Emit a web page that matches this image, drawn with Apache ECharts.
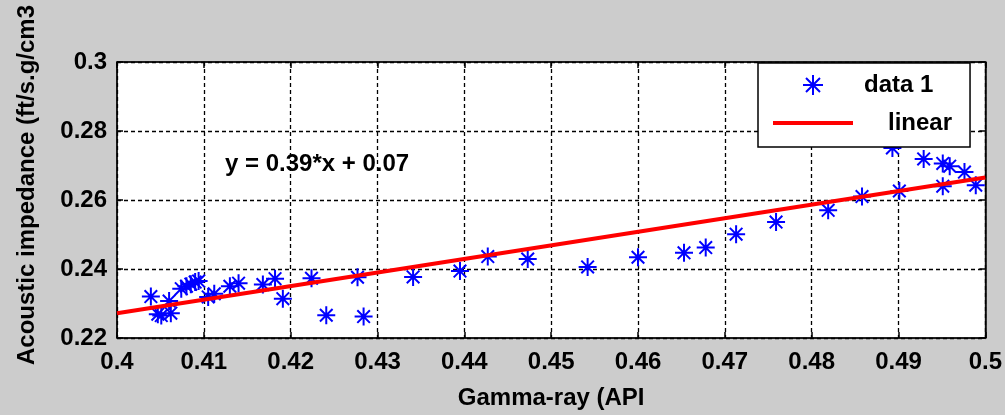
<!DOCTYPE html>
<html>
<head>
<meta charset="utf-8">
<script src="https://cdn.jsdelivr.net/npm/echarts@6/dist/echarts.min.js"></script>
<style>
html,body{margin:0;padding:0;background:#cccccc;}
#chart{width:1005px;height:415px;}
</style>
</head>
<body>
<div id="chart"></div>
<script>
// ---- data ----
const gammaRay = [0.4039, 0.4047, 0.4051, 0.4060, 0.4062, 0.4074, 0.4080, 0.4085, 0.4090, 0.4094,
  0.4105, 0.4112, 0.4130, 0.4140, 0.4168, 0.4182, 0.4191, 0.4224, 0.4241, 0.4277,
  0.4284, 0.4341, 0.4395, 0.4427, 0.4473, 0.4542, 0.4600, 0.4653, 0.4678, 0.4713,
  0.4759, 0.4819, 0.4858, 0.4893, 0.4901, 0.4929, 0.4951, 0.4959, 0.4951, 0.4976, 0.4989];
const impedance = [0.2320, 0.2269, 0.2265, 0.2307, 0.2272, 0.2343, 0.2350, 0.2356, 0.2362, 0.2365,
  0.2319, 0.2328, 0.2350, 0.2359, 0.2355, 0.2372, 0.2314, 0.2373, 0.2266, 0.2376,
  0.2262, 0.2377, 0.2394, 0.2436, 0.2429, 0.2406, 0.2434, 0.2447, 0.2462, 0.2501,
  0.2536, 0.2570, 0.2610, 0.2751, 0.2626, 0.2719, 0.2706, 0.2698, 0.2640, 0.2681, 0.2643];
const fitX = [0.4, 0.5];
const fitY = [0.2272, 0.2665];
const xRange = [0.4, 0.5];
const xStep = 0.01;
const yRange = [0.22, 0.3];
const yStep = 0.02;
const seriesNames = ['data 1', 'linear'];
const equationText = 'y = 0.39*x + 0.07';
const xTitle = 'Gamma-ray (API';
const yTitle = 'Acoustic impedance (ft/s.g/cm3';

const FONT = '"Liberation Sans", Arial, Helvetica, sans-serif';
const STAR = 'path://M0,-10L0,10M-10,0L10,0M-7,-7L7,7M-7,7L7,-7M-1.5,-1.5L1.5,-1.5L1.5,1.5L-1.5,1.5Z';
const LINE_ICON = 'path://M0,0L80,0L80,4L0,4Z';

const chart = echarts.init(document.getElementById('chart'));
const labelStyle = {color: '#000', fontFamily: FONT, fontWeight: 'bold', fontSize: 24};

const option = {
  backgroundColor: '#cccccc',
  animation: false,
  grid: {left: 117, top: 62, right: 18, bottom: 73, show: true, backgroundColor: '#ffffff', borderColor: '#000', borderWidth: 1},
  xAxis: [{
    type: 'value', min: xRange[0], max: xRange[1], interval: xStep,
    name: xTitle, nameLocation: 'middle', nameGap: 48,
    nameTextStyle: labelStyle,
    axisLine: {show: true, lineStyle: {color: '#000', width: 1.5}},
    axisTick: {show: true, inside: true, length: 6, lineStyle: {color: '#000', width: 1.5}},
    axisLabel: Object.assign({margin: 12}, labelStyle),
    splitLine: {show: true, lineStyle: {color: '#000', type: [4, 3], width: 1.3}}
  }, {
    type: 'value', position: 'top', min: xRange[0], max: xRange[1], interval: xStep,
    axisLine: {show: true, lineStyle: {color: '#000', width: 1.5}},
    axisTick: {show: true, inside: true, length: 6, lineStyle: {color: '#000', width: 1.5}},
    axisLabel: {show: false}, splitLine: {show: false}
  }],
  yAxis: [{
    type: 'value', min: yRange[0], max: yRange[1], interval: yStep,
    axisLine: {show: true, lineStyle: {color: '#000', width: 1.5}},
    axisTick: {show: true, inside: true, length: 6, lineStyle: {color: '#000', width: 1.5}},
    axisLabel: Object.assign({margin: 10}, labelStyle),
    splitLine: {show: true, lineStyle: {color: '#000', type: [4, 3], width: 1.3}}
  }, {
    type: 'value', position: 'right', min: yRange[0], max: yRange[1], interval: yStep,
    axisLine: {show: true, lineStyle: {color: '#000', width: 1.5}},
    axisTick: {show: true, inside: true, length: 6, lineStyle: {color: '#000', width: 1.5}},
    axisLabel: {show: false}, splitLine: {show: false}
  }],
  legend: {
    orient: 'vertical', left: 758, top: 63,
    padding: [10, 18, 12, 15],
    itemWidth: 80, itemHeight: 20, itemGap: 14,
    backgroundColor: '#ffffff', borderColor: '#000', borderWidth: 1.5, borderRadius: 0,
    textStyle: {color: '#000', fontFamily: FONT, fontWeight: 'bold', fontSize: 24, lineHeight: 24},
    data: [
      {name: seriesNames[0], icon: STAR, itemStyle: {color: '#0000ff', borderColor: '#0000ff', borderWidth: 2}, textStyle: {padding: [0, 0, 0, 6]}},
      {name: seriesNames[1], icon: LINE_ICON, itemStyle: {color: '#ff0000', borderWidth: 0}, textStyle: {padding: [0, 0, 0, 30]}}
    ]
  },
  graphic: [
    {type: 'text', left: 225, top: 152, style: {text: equationText, fill: '#000', font: 'bold 24px ' + FONT}},
    {type: 'text', x: 27, y: 185, rotation: Math.PI / 2,
     style: {text: yTitle, fill: '#000', font: 'bold 24px ' + FONT, align: 'center', verticalAlign: 'middle'}}
  ],
  series: [
    {
      name: seriesNames[0], type: 'scatter',
      symbol: STAR, symbolSize: 18,
      itemStyle: {color: '#0000ff', borderColor: '#0000ff', borderWidth: 2, opacity: 1},
      data: gammaRay.map((g, i) => [g, impedance[i]]),
      z: 3
    },
    {
      name: seriesNames[1], type: 'line',
      showSymbol: false, symbol: 'none',
      lineStyle: {color: '#ff0000', width: 4},
      itemStyle: {color: '#ff0000'},
      data: fitX.map((x, i) => [x, fitY[i]]),
      z: 4
    }
  ]
};
chart.setOption(option);
</script>
</body>
</html>
